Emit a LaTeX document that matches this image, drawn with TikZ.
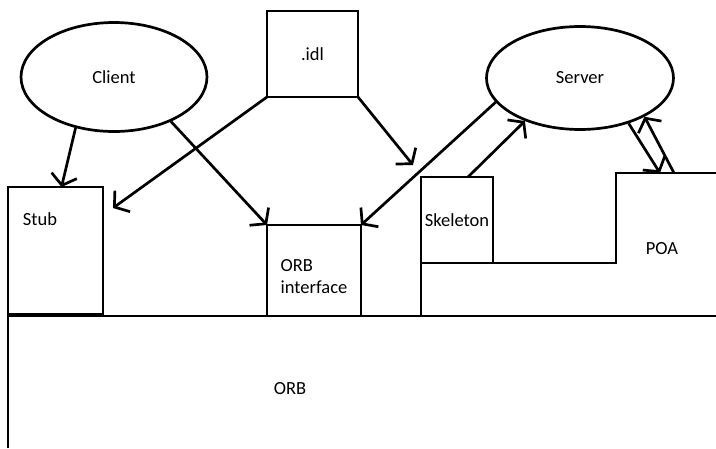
\documentclass[tikz,border=0pt]{standalone}
\usepackage{fontspec}
\setmainfont{Carlito}
\usetikzlibrary{arrows.meta,shapes.geometric,calc}
\begin{document}
\begin{tikzpicture}[x=1pt, y=-1pt, line width=2.7pt,
  >={Straight Barb[length=10pt,width=26pt]},
  every node/.style={font=\fontsize{18.5}{22}\selectfont},
  oval/.style={draw, ellipse, inner sep=0pt},
  box/.style={draw, rectangle, inner sep=0pt, outer sep=0pt}]
\useasboundingbox (0,0) rectangle (716,448);
% client and server
\node[oval, minimum width=186pt, minimum height=109pt] (client) at (114,77) {Client};
\node[oval, minimum width=187pt, minimum height=103pt] (server) at (580,78) {Server};
% idl
\node[box, minimum width=91pt, minimum height=86pt] (idl) at (312.5,54) {.idl};
% stub
\node[box, minimum width=95pt, minimum height=127pt] (stub) at (55.5,250.5) {};
\node (stubtext) at (40,219) {Stub};
% ORB interface
\node[box, minimum width=94pt, minimum height=91pt] (orbif) at (314,270.5) {};
\node[align=left] (orbiftext) at (314,277) {ORB\\interface};
% skeleton and POA
\node[box, minimum width=72pt, minimum height=86pt] (skel) at (457,220) {Skeleton};
\coordinate (poa) at (616,173);
\draw (skel.south east) -- (poa |- skel.south) -- (poa) -- (716,173);
\draw (skel.south west) -- ++(0,53);
\node (poatext) at (662,249) {POA};
% ORB
\draw (8,448) -- (8,316) -- (716,316);
\node (orb) at (290,389) {ORB};
% calls
\draw[->] (client.233) -- ([xshift=6pt]stub.north);
\draw[->] (client.322) -- (orbif.north west);
\draw[->] (idl.south west) -- ($(stub.north east)+(10,21)$);
\draw[->] (idl.south east) -- ($(skel.north west)+(-8,-12)$);
\draw[->] (server.196) -- (orbif.north east);
\draw[->] ([xshift=11pt]skel.north) -- (server.218);
\draw[->] (server.317) -- ($(poa)+(44,0)$);
\draw[->] ($(poa)+(58,0)$) -- (server.329);
\end{tikzpicture}
\end{document}
